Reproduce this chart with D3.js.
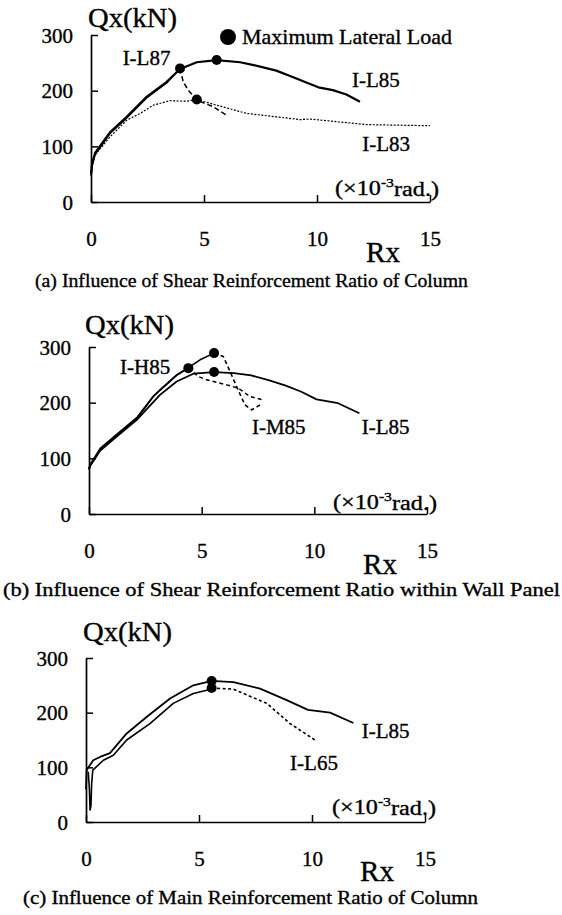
<!DOCTYPE html>
<html>
<head>
<meta charset="utf-8">
<script src="https://cdn.jsdelivr.net/npm/d3@7"></script>
<style>
body { margin: 0; background: #fff; }
text { font-family: "Liberation Serif", "Times New Roman", serif; fill: #000; stroke: #000; stroke-width: 0.35; }
</style>
</head>
<body>
<script>
// categories / tick labels
var panelIds = ["a", "b", "c"];
var captions = ["(a) Influence of Shear Reinforcement Ratio of Column",
                "(b) Influence of Shear Reinforcement Ratio within Wall Panel",
                "(c) Influence of Main Reinforcement Ratio of Column"];
var xTicks = [0, 5, 10, 15];
var yTicks = [0, 100, 200, 300];

// series values [Rx (x10^-3 rad), Qx (kN)]
// panel (a)
var aL85 = [[0,50],[0.05,68],[0.18,88],[0.5,106],[0.84,125],[1.58,153],[2.46,189],[3.35,216],[3.94,239],[4.68,251],[5.56,255],[6.6,251],[7.2,246],[8.2,236],[8.95,224],[9.5,215],[10.06,206],[10.7,201],[11.3,193],[11.9,180]];
var aL87 = [[0,47],[0.05,65],[0.18,85],[0.5,103],[0.84,123],[1.58,151],[2.46,187],[3.35,214],[3.94,240],[4.08,216],[4.3,201],[4.68,183],[5.41,171],[6.0,156]];
var aL83 = [[0,55],[0.03,75],[0.25,88],[0.84,117],[1.58,147],[2.17,159],[2.76,174],[3.5,182],[4.23,181],[4.68,184],[5.56,174],[6.9,159],[8.2,153],[9.25,148],[9.7,149],[12.2,139],[15,137]];
// panel (b)
var bL85 = [[0,80],[0.05,86],[0.5,114],[1.23,139],[2.12,169],[3.15,214],[3.89,238],[4.63,252],[5.55,255],[6.43,253],[7.2,249],[8.0,240],[8.7,231],[9.4,220],[10.1,206],[11.05,199],[12.0,181]];
var bH85 = [[0,82],[0.05,89],[0.5,118],[1.23,143],[2.12,173],[2.86,212],[3.15,223],[3.89,250],[4.41,263],[4.93,277],[5.55,289],[5.96,283],[6.26,256],[6.55,229],[6.92,196],[7.22,187],[7.59,196]];
var bM85 = [[0,80],[0.05,87],[0.5,116],[1.23,141],[2.12,171],[2.86,211],[3.15,222],[3.89,249],[4.41,262],[4.85,247],[5.22,241],[6.11,232],[6.63,226],[7.14,211],[7.74,205]];
// panel (c)
var cL85 = [[0,60],[0.03,95],[0.32,113],[0.62,119],[1.06,126],[1.8,162],[2.68,192],[3.72,226],[4.75,250],[5.34,256],[5.56,258],[6.52,256],[7.7,244],[8.88,223],[9.82,205],[10.8,200],[11.83,181]];
var cL65 = [[0.1,92],[0.15,60],[0.18,22],[0.22,30],[0.25,70],[0.3,95],[0.77,113],[1.21,122],[1.8,150],[2.83,180],[3.86,217],[4.75,235],[5.34,241],[5.56,245],[6.52,243],[8.0,217],[9.03,180],[10.13,150]];

var seriesNames = [["I-L85", "I-L87", "I-L83"], ["I-L85", "I-H85", "I-M85"], ["I-L85", "I-L65"]];
var seriesValues = [[aL85, aL87, aL83], [bL85, bH85, bM85], [cL85, cL65]];

// line styles: pre = up to max load, post = after it
var styles = {
  "a": [{w: 2.2, pre: null, post: null}, {w: 1.5, pre: null, post: "5,3"}, {w: 1.2, pre: "2,1.5", post: "2,1.5"}],
  "b": [{w: 1.8, pre: null, post: null}, {w: 1.6, pre: null, post: "4,3"}, {w: 1.5, pre: null, post: "4,3"}],
  "c": [{w: 1.8, pre: null, post: null}, {w: 1.6, pre: null, post: "3,2.5"}]
};

var serif = '"Liberation Serif", "Times New Roman", serif';

// layout in pixels; label anchors in data units
var layout = [
  {x0: 91, x1: 430, y0: 202, y300: 35, qx: [88, 18], cap: [35, 468, 281], rx: [383, 252], rad: [335, 188],
   labels: [[11.55, 219], [1.4, 259], [12.0, 104]]},
  {x0: 89, x1: 427, y0: 514, y300: 347, qx: [85, 325], cap: [3, 560, 590], rx: [380, 564], rad: [333, 502],
   labels: [[12.1, 156], [1.38, 264], [7.23, 156]]},
  {x0: 86, x1: 425, y0: 822, y300: 658, qx: [83, 632], cap: [23, 478, 898], rx: [377, 871], rad: [332, 807],
   labels: [[12.2, 166], [9.03, 108]]}
];

var svg = d3.select("body").append("svg").attr("width", 562).attr("height", 915);
svg.append("rect").attr("width", 562).attr("height", 915).attr("fill", "#fff");

panelIds.forEach(function(id, pi) {
  var L = layout[pi];
  var g = svg.append("g").attr("class", "panel-" + id);
  var x = d3.scaleLinear().domain([0, 15]).range([L.x0, L.x1]);
  var y = d3.scaleLinear().domain([0, 300]).range([L.y0, L.y300]);

  var yAxis = d3.axisLeft(y).tickValues(yTicks).tickSizeInner(-7).tickSizeOuter(0).tickPadding(18);
  var xAxis = d3.axisBottom(x).tickValues(xTicks).tickSizeInner(-7).tickSizeOuter(0).tickPadding(29);

  var ya = g.append("g").attr("transform", "translate(" + L.x0 + ",0)").call(yAxis);
  var xa = g.append("g").attr("transform", "translate(0," + L.y0 + ")").call(xAxis);
  [ya, xa].forEach(function(a) {
    a.attr("font-family", serif).attr("font-size", 21);
    a.select(".domain").attr("stroke", "#000").attr("stroke-width", 1.7);
    a.selectAll(".tick line").attr("stroke", "#000").attr("stroke-width", 1.5);
    a.selectAll(".tick text").attr("font-size", 21);
  });
  ya.selectAll(".tick text").attr("dy", "0.34em");

  var line = d3.line().x(function(d) { return x(d[0]); }).y(function(d) { return y(d[1]); });

  seriesValues[pi].forEach(function(vals, si) {
    var st = styles[id][si];
    var k = d3.maxIndex(vals, function(d) { return d[1]; });
    [[vals.slice(0, k + 1), st.pre], [vals.slice(k), st.post]].forEach(function(part) {
      g.append("path").datum(part[0])
        .attr("d", line)
        .attr("fill", "none")
        .attr("stroke", "#000")
        .attr("stroke-width", st.w)
        .attr("stroke-linejoin", "round")
        .attr("stroke-dasharray", part[1]);
    });
    // maximum lateral load marker
    g.append("circle")
      .attr("cx", x(vals[k][0]))
      .attr("cy", y(vals[k][1]))
      .attr("r", 5)
      .attr("fill", "#000");
    // series label
    g.append("text")
      .attr("x", x(L.labels[si][0]))
      .attr("y", y(L.labels[si][1]))
      .attr("dy", "0.34em")
      .attr("font-size", 21)
      .text(seriesNames[pi][si]);
  });

  g.append("text").attr("x", L.qx[0]).attr("y", L.qx[1]).attr("dy", "0.34em")
    .attr("font-size", 27).attr("textLength", 89).attr("lengthAdjust", "spacingAndGlyphs")
    .text("Qx(kN)");
  g.append("text").attr("x", L.rx[0]).attr("y", L.rx[1]).attr("dy", "0.34em")
    .attr("text-anchor", "middle").attr("font-size", 29).text("Rx");

  var rad = g.append("text").attr("x", L.rad[0]).attr("y", L.rad[1]).attr("dy", "0.34em").attr("font-size", 20)
    .attr("textLength", 104).attr("lengthAdjust", "spacingAndGlyphs");
  rad.append("tspan").text("(\u00d710");
  rad.append("tspan").attr("font-size", 13).attr("dy", "-0.6em").text("-3");
  rad.append("tspan").attr("dy", "0.45em").text("rad.)");

  g.append("text").attr("x", L.cap[0]).attr("y", L.cap[2]).attr("dy", "0.34em")
    .attr("font-size", 19)
    .attr("textLength", L.cap[1] - L.cap[0])
    .attr("lengthAdjust", "spacingAndGlyphs")
    .text(captions[pi]);
});

// legend (panel a)
svg.append("circle").attr("cx", 228).attr("cy", 37).attr("r", 8).attr("fill", "#000");
svg.append("text").attr("x", 242).attr("y", 37).attr("dy", "0.34em").attr("font-size", 21)
  .attr("textLength", 210).attr("lengthAdjust", "spacingAndGlyphs")
  .text("Maximum Lateral Load");
</script>
</body>
</html>
